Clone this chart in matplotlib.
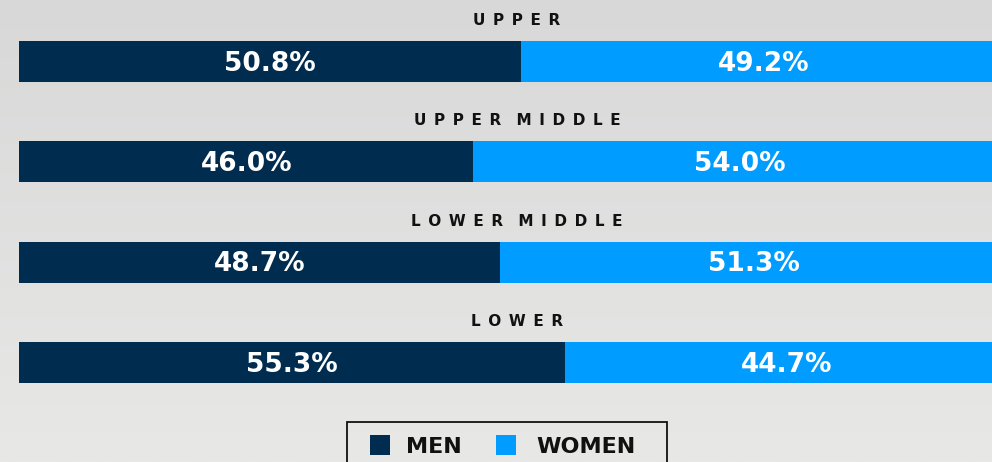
import matplotlib
matplotlib.use("Agg")
import matplotlib.pyplot as plt
import numpy as np
from matplotlib.patches import Rectangle

plt.rcParams['font.family'] = ['DejaVu Sans']

# data
categories = ['UPPER', 'UPPER MIDDLE', 'LOWER MIDDLE', 'LOWER']
men = [50.8, 46.0, 48.7, 55.3]
women = [49.2, 54.0, 51.3, 44.7]
legend_labels = ['MEN', 'WOMEN']

navy = '#002d4f'
blue = '#009cff'
ink = '#111111'

W, H = 992, 462
fig = plt.figure(figsize=(W / 100, H / 100), dpi=100)

# background gradient
bg = fig.add_axes([0, 0, 1, 1], zorder=-10)
grad = np.linspace(0, 1, 256).reshape(-1, 1)
bg.imshow(grad, aspect='auto', cmap=matplotlib.colors.LinearSegmentedColormap.from_list(
    'g', ['#d7d8d7', '#e8e8e7']), extent=[0, 1, 0, 1])
bg.axis('off')

# main axes: bars from px 19 to 1007 (runs past right edge), y from 41 to 383
left, right = 19, 1007
top, bottom = 41, 383
ax = fig.add_axes([left / W, 1 - bottom / H, (right - left) / W, (bottom - top) / H])
ax.set_facecolor('none')

h = 41 / 100.3
y = np.arange(len(categories))
ax.barh(y, men, height=h, color=navy)
ax.barh(y, women, left=men, height=h, color=blue)
ax.set_xlim(0, 100)
ax.set_ylim(3 + h / 2, -h / 2)
ax.axis('off')

for i, cat in enumerate(categories):
    ax.text(men[i] / 2, i + 0.02, f'{men[i]:.1f}%', color='white', fontsize=19,
            fontweight='bold', ha='center', va='center')
    ax.text(men[i] + women[i] / 2, i + 0.02, f'{women[i]:.1f}%', color='white',
            fontsize=19, fontweight='bold', ha='center', va='center')
    # wide letter tracking with en / em spaces
    spaced = '\u2003'.join('\u2002'.join(w) for w in cat.split())
    ax.text(50.4, i - 0.41, spaced, color=ink, fontsize=11, fontweight='bold',
            ha='center', va='center', clip_on=False)

# legend drawn by hand, box runs past the bottom edge
def fx(px):
    return px / W

def fy(py):
    return 1 - py / H

box = Rectangle((fx(347), fy(480)), fx(667) - fx(347), fy(422) - fy(480),
                transform=fig.transFigure, facecolor='none', edgecolor=ink,
                linewidth=1.3)
fig.patches.append(box)
sq = 20
for x0, tx, lab, col in [(370, 406, legend_labels[0], navy), (496, 536, legend_labels[1], blue)]:
    fig.patches.append(Rectangle((fx(x0), fy(455)), sq / W, sq / H,
                                 transform=fig.transFigure, facecolor=col,
                                 edgecolor='none'))
    fig.text(fx(tx), fy(447), lab, color=ink, fontsize=16, fontweight='bold',
             ha='left', va='center')

fig.savefig('out.png', dpi=100)
